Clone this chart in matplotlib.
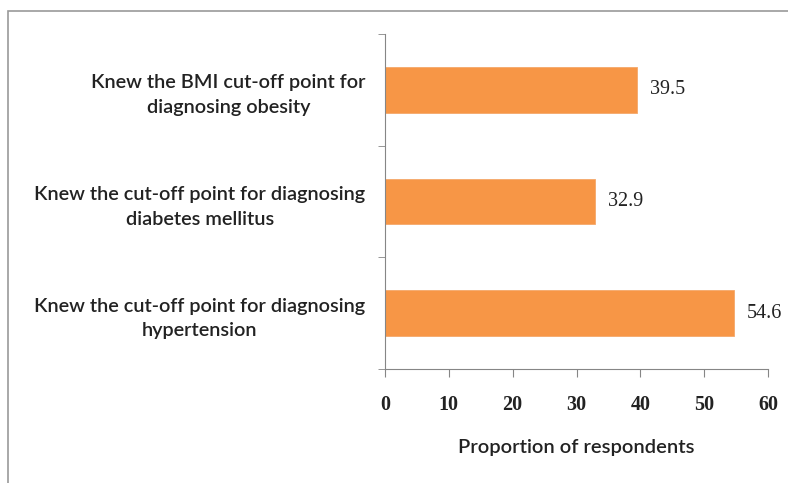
import matplotlib.pyplot as plt
from matplotlib.patches import Rectangle

categories = [
    "Knew the cut-off point for diagnosing\nhypertension",
    "Knew the cut-off point for diagnosing\ndiabetes mellitus",
    "Knew the BMI cut-off point for\ndiagnosing obesity",
]
values = [54.6, 32.9, 39.5]
xticks = [0, 10, 20, 30, 40, 50, 60]

bar_color = "#F79646"
axis_color = "#868686"

fig = plt.figure(figsize=(7.88, 4.83), dpi=100)
ax = fig.add_axes([385 / 788, 1 - 369 / 483, (768 - 385) / 788, (369 - 34) / 483])

# outer chart border (clipped at right/bottom like the source image)
fig.patches.append(Rectangle((8 / 788, -0.2), 1.2, 1.2 - 11 / 483,
                             transform=fig.transFigure, fill=False,
                             edgecolor="#9a9a9a", linewidth=1.2))

pos = list(range(len(categories)))
ax.barh(pos, values, height=0.41, color=bar_color, edgecolor="#f5a86a", linewidth=0.6)

for p, v in zip(pos, values):
    ax.text(v + 2.0, p, f"{v}", va="center", ha="left", fontsize=14.5,
            family="Liberation Serif", color="#222222")

ax.set_xlim(0, 60)
ax.set_ylim(-0.5, len(categories) - 0.5)
ax.set_xticks(xticks)
ax.set_xticklabels([str(t) for t in xticks], family="Liberation Serif",
                   fontsize=14.5, fontweight="bold", color="#222222")
ax.set_yticks(pos)
ax.set_yticklabels(categories, family="Lato", fontsize=14.3, fontweight="semibold",
                   ha="right", multialignment="center", linespacing=1.55,
                   color="#222222")
ax.set_yticks([p - 0.5 for p in pos] + [pos[-1] + 0.5], minor=True)

ax.tick_params(axis="y", which="major", length=0, pad=14)
ax.tick_params(axis="y", which="minor", length=5, color=axis_color, direction="out")
ax.tick_params(axis="x", which="major", length=6, color=axis_color, direction="out", pad=13)

for s in ["top", "right"]:
    ax.spines[s].set_visible(False)
for s in ["left", "bottom"]:
    ax.spines[s].set_color(axis_color)

ax.set_xlabel("Proportion of respondents", family="Lato", fontsize=14.5,
              fontweight="semibold", color="#222222", labelpad=17)

fig.savefig("out.png", dpi=100)
